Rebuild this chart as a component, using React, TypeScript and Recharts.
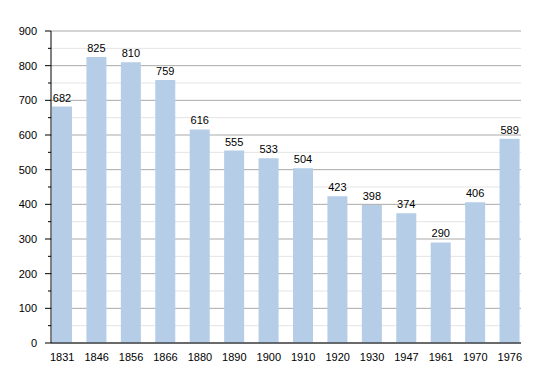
import React from "react";
import { BarChart, Bar, XAxis, YAxis, CartesianGrid, LabelList } from "recharts";

const years = ["1831", "1846", "1856", "1866", "1880", "1890", "1900", "1910", "1920", "1930", "1947", "1961", "1970", "1976"];
const population = [682, 825, 810, 759, 616, 555, 533, 504, 423, 398, 374, 290, 406, 589];
const yTicks = [0, 50, 100, 150, 200, 250, 300, 350, 400, 450, 500, 550, 600, 650, 700, 750, 800, 850, 900];

const data = years.map((year, i) => ({ year, value: population[i] }));

const font = "'Liberation Sans', Arial, sans-serif";

function YTick(props: any) {
  const { x, y, payload } = props;
  const major = payload.value % 100 === 0;
  return (
    <g>
      <line x1={x - (major ? 6 : 3)} x2={x} y1={y} y2={y} stroke="#000" strokeWidth={1} />
      {major && (
        <text x={x - 14} y={y} dy={4} textAnchor="end" fontSize={11} fontFamily={font} fill="#000">
          {payload.value}
        </text>
      )}
    </g>
  );
}

function GridLine(props: any) {
  const { x1, x2, y1, y2, index } = props;
  const major = index % 2 === 0;
  return <line x1={x1} x2={x2} y1={y1} y2={y2} stroke={major ? "#a9a9a9" : "#e4e4e4"} strokeWidth={1} />;
}

export default function App() {
  return (
    <div style={{ position: "absolute", left: 0, top: 0, background: "#fff" }}>
      <BarChart width={550} height={373} data={data} margin={{ top: 31, right: 29, left: 0, bottom: 0 }}>
        <CartesianGrid vertical={false} horizontal={GridLine} />
        <XAxis
          dataKey="year"
          padding={{ left: -6, right: -6 }}
          axisLine={{ stroke: "#000" }}
          tickLine={false}
          tickMargin={4}
          height={30}
          tick={{ fontSize: 11, fill: "#000", fontFamily: font }}
          interval={0}
        />
        <YAxis
          width={51}
          domain={[0, 900]}
          ticks={yTicks}
          interval={0}
          axisLine={{ stroke: "#000" }}
          tickLine={false}
          tickSize={0}
          tickMargin={0}
          tick={<YTick />}
        />
        <Bar dataKey="value" fill="#b5cde6" barSize={20} isAnimationActive={false}>
          <LabelList dataKey="value" position="top" fontSize={11} fill="#000" fontFamily={font} />
        </Bar>
      </BarChart>
    </div>
  );
}
